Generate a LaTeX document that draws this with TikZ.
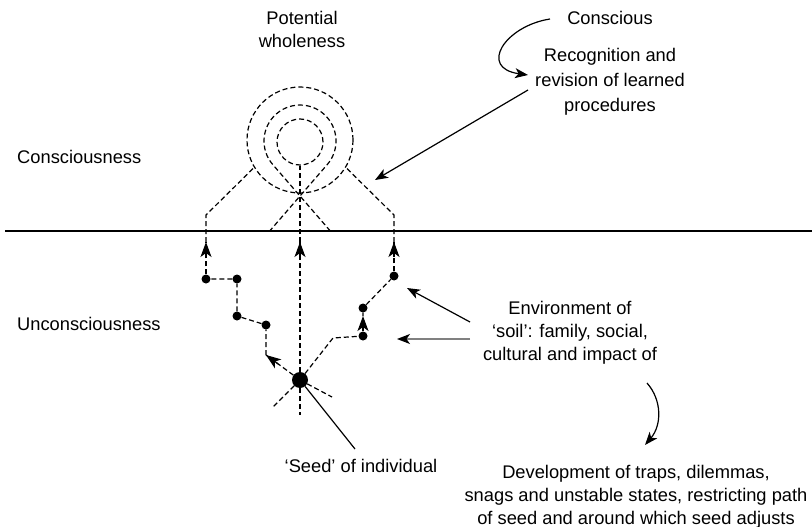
\documentclass[tikz,border=0pt]{standalone}
\usepackage{fontspec}
\setmainfont{Liberation Sans}
\usetikzlibrary{positioning}
\usetikzlibrary{arrows.meta}
\usetikzlibrary{calc}

\tikzset{
  labeltext/.style={font=\fontsize{18.3}{23}\selectfont, align=center, inner sep=0pt},
  dashline/.style={line width=1.2pt, dash pattern=on 5pt off 3pt},
  solidline/.style={line width=1.2pt},
  dot/.style={circle, fill, inner sep=0pt, minimum size=9pt},
  seeddot/.style={circle, fill, inner sep=0pt, minimum size=16pt},
  tipend/.style={line width=1.2pt, -{Stealth[length=15pt,width=11pt,inset=4pt]}},
  pointer/.style={line width=1.2pt, -{Stealth[length=13pt,width=10pt,inset=3.5pt]}},
}
% dashed segment whose end carries a solid arrow head
\newcommand{\dashtip}[2]{%
  \draw[dashline] (#1) -- (#2);
  \draw[tipend] ($(#2)!15pt!(#1)$) -- (#2);
}

\begin{document}
\begin{tikzpicture}[x=1pt, y=-1pt]
    \useasboundingbox (0,0) rectangle (812,527);
    % labels
    \node[labeltext] (potential) at (302,29) {Potential\\wholeness};
    \node[labeltext] (conscious) at (610,18) {Conscious};
    \node[labeltext, font=\fontsize{18.3}{25}\selectfont] (recognition) at (610,82) {Recognition and\\revision of learned\\procedures};
    \node[labeltext, anchor=west] (consciousness) at (17,157) {Consciousness};
    \node[labeltext, anchor=west] (unconsciousness) at (17,324) {Unconsciousness};
    \node[labeltext] (environment) at (570,333) {Environment of\\`soil': family, social,\\cultural and impact of};
    \node[labeltext] (development) at (636,497) {Development of traps, dilemmas,\\snags and unstable states, restricting path\\of seed and around which seed adjusts};
    \node[labeltext] (seedlabel) at (361,466) {`Seed' of individual};

    % boundary between the two levels
    \coordinate (lineL) at (5,231);
    \coordinate (lineR) at (812,231);
    \draw[solidline] (lineL) -- (lineR);

    % circles of wholeness
    \coordinate (cross) at (300,196);
    \node[circle, draw, dashline, minimum size=46pt, inner sep=0pt] (inner) at (300,142) {};
    \coordinate (outerc) at (300,140);
    \draw[dashline] (outerc) circle[radius=53];
    \coordinate (tdL) at (272.8,164.6);
    \coordinate (footR) at (330.3,231);
    \coordinate (footL) at (269.7,231);
    \draw[dashline] (footR) -- (cross) -- (tdL)
        arc[start angle=139.1, end angle=400.9, radius=36] -- (cross) -- (footL);

    % seed and rays
    \node[seeddot] (seed) at (300,380) {};
    \coordinate (rayA) at (273,407);
    \coordinate (rayB) at (300,415);
    \coordinate (rayC) at (332,397);
    \coordinate (midC) at (300,242);
    \draw[dashline] (seed) -- (rayA);
    \draw[dashline] (seed) -- (rayB);
    \draw[dashline] (seed) -- (rayC);
    \dashtip{seed}{midC}
    \draw[dashline] (midC) -- (inner.south);

    % left path
    \coordinate (l1) at (266,355);
    \node[dot] (l2) at (266,325) {};
    \node[dot] (l3) at (237,316) {};
    \node[dot] (l4) at (237,279) {};
    \node[dot] (l5) at (206,279) {};
    \coordinate (l6) at (206,215);
    \coordinate (l7) at (254.1,167.5);
    \coordinate (midL) at (206,242);
    \dashtip{seed}{l1}
    \draw[dashline] (l1) -- (l2) -- (l3) -- (l4) -- (l5);
    \dashtip{l5}{midL}
    \draw[dashline] (midL) -- (l6) -- (l7);

    % right path
    \coordinate (r1) at (333,338);
    \node[dot] (r2) at (363,336) {};
    \node[dot] (r3) at (363,308) {};
    \node[dot] (r4) at (394,276) {};
    \coordinate (r5) at (394,215);
    \coordinate (r6) at (345.9,167.5);
    \coordinate (midR) at (363,316);
    \coordinate (midT) at (394,242);
    \draw[dashline] (seed) -- (r1) -- (r2);
    \dashtip{r2}{midR}
    \draw[dashline] (midR) -- (r3) -- (r4);
    \dashtip{r4}{midT}
    \draw[dashline] (midT) -- (r5) -- (r6);

    % pointers from the texts
    \coordinate (p1s) at (550,19);
    \coordinate (p1e) at (528,75);
    \draw[pointer] (p1s) .. controls (505,26) and (478,68) .. (p1e);
    \coordinate (p2s) at (528,90);
    \coordinate (p2e) at (375,180);
    \draw[pointer] (p2s) -- (p2e);
    \coordinate (p3s) at (470,322);
    \coordinate (p3e) at (407,288);
    \draw[pointer] (p3s) -- (p3e);
    \coordinate (p4s) at (470,339);
    \coordinate (p4e) at (397,339);
    \draw[pointer, gray, -{Stealth[length=13pt,width=10pt,inset=3.5pt,color=black]}] (p4s) -- (p4e);
    \coordinate (p5s) at (647,383);
    \coordinate (p5e) at (645,445);
    \draw[pointer] (p5s) .. controls (662,400) and (662,425) .. (p5e);
    \coordinate (seedend) at (355,449);
    \draw[solidline] (seed) -- (seedend);
\end{tikzpicture}
\end{document}
